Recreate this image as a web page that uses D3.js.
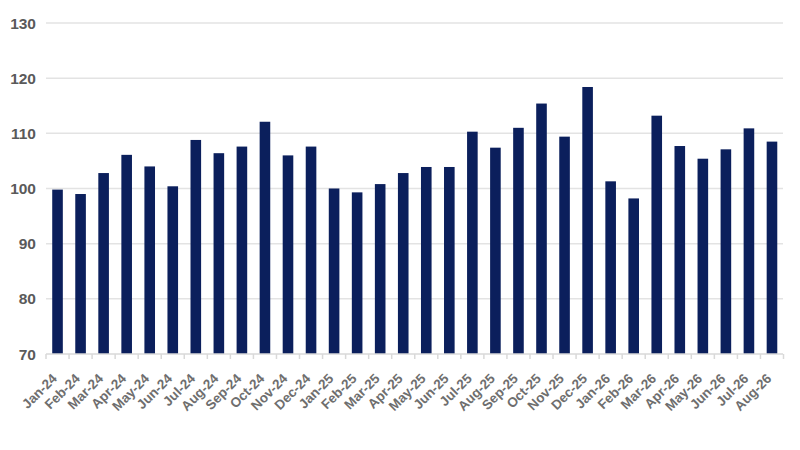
<!DOCTYPE html>
<html><head><meta charset="utf-8">
<script src="https://cdn.jsdelivr.net/npm/d3@7"></script>
<style>body{margin:0;background:#fff}svg{display:block}</style>
</head><body>
<svg id="c" width="800" height="450"></svg>
<script>
const categories = ["Jan-24","Feb-24","Mar-24","Apr-24","May-24","Jun-24","Jul-24","Aug-24","Sep-24","Oct-24","Nov-24","Dec-24",
"Jan-25","Feb-25","Mar-25","Apr-25","May-25","Jun-25","Jul-25","Aug-25","Sep-25","Oct-25","Nov-25","Dec-25",
"Jan-26","Feb-26","Mar-26","Apr-26","May-26","Jun-26","Jul-26","Aug-26"];
const values = [99.8,99.0,102.8,106.1,104.0,100.4,108.8,106.4,107.6,112.1,106.0,107.6,
100.0,99.3,100.8,102.8,103.9,103.9,110.3,107.4,111.0,115.4,109.4,118.4,
101.3,98.2,113.2,107.7,105.4,107.1,110.9,108.5];
const yTicks = [70,80,90,100,110,120,130];

const svg = d3.select("#c");
const x = d3.scaleBand().domain(categories).range([46,783.5]).paddingInner(0.54).paddingOuter(0.27);
const y = d3.scaleLinear().domain([70,130]).range([354,23]);

// gridlines
svg.append("g").selectAll("line").data(yTicks.slice(1)).join("line")
  .attr("x1",46).attr("x2",783).attr("y1",d=>y(d)).attr("y2",d=>y(d))
  .attr("stroke","#e3e3e3").attr("stroke-width",1.5);

// y labels
svg.append("g").selectAll("text").data(yTicks).join("text")
  .attr("x",36).attr("y",d=>y(d)).attr("dy","0.36em").attr("text-anchor","end")
  .attr("font-family","Liberation Sans, Arial, sans-serif").attr("font-size",15.5).attr("font-weight","bold")
  .attr("fill","#5a5a5a").text(d=>d);

// bars
svg.append("g").selectAll("rect").data(values).join("rect")
  .attr("x",(d,i)=>x(categories[i])).attr("width",x.bandwidth())
  .attr("y",d=>y(d)).attr("height",d=>y(70)-y(d))
  .attr("fill","#0b1f5c");

// x axis
const step = x.step();
const ax = svg.append("g").attr("transform","translate(0,354)");
ax.append("line").attr("x1",46).attr("x2",783).attr("stroke","#d9d9d9").attr("stroke-width",1.5);
const bounds = categories.map(c=>x(c) - (step-x.bandwidth())/2);
bounds.push(x(categories[categories.length-1])+x.bandwidth()+(step-x.bandwidth())/2);
ax.selectAll("line.t").data(bounds).join("line").attr("class","t")
  .attr("x1",d=>d).attr("x2",d=>d).attr("y1",0).attr("y2",5).attr("stroke","#d9d9d9").attr("stroke-width",1.5);
ax.selectAll("text").data(categories).join("text")
  .attr("transform",d=>`translate(${x(d)+x.bandwidth()/2-3},22) rotate(-45)`)
  .attr("text-anchor","end").attr("dy","0.35em")
  .attr("font-family","Liberation Sans, Arial, sans-serif").attr("font-size",13.5).attr("font-weight","bold")
  .attr("fill","#6e6e6e").text(d=>d);
</script>
</body></html>
